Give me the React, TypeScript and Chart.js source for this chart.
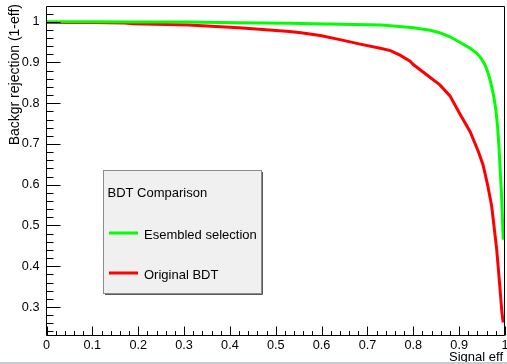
import { useEffect, useRef } from 'react';
import { Chart, registerables } from 'chart.js';

Chart.register(...registerables);

// Esembled selection (green)
const effGreen = [0, 0.1, 0.2, 0.3, 0.42, 0.53, 0.64, 0.73, 0.77, 0.8, 0.837, 0.86, 0.88, 0.905, 0.924, 0.938, 0.948, 0.956, 0.962, 0.968, 0.975, 0.98, 0.984, 0.987, 0.99, 0.993, 0.996];
const rejGreen = [1.0, 1.0, 0.9995, 0.999, 0.9975, 0.996, 0.994, 0.992, 0.988, 0.985, 0.979, 0.972, 0.963, 0.947, 0.935, 0.923, 0.91, 0.895, 0.878, 0.855, 0.82, 0.785, 0.74, 0.69, 0.625, 0.562, 0.465];

// Original BDT (red)
const effRed = [0, 0.1, 0.17, 0.19, 0.31, 0.42, 0.53, 0.555, 0.597, 0.64, 0.684, 0.728, 0.75, 0.771, 0.793, 0.8, 0.829, 0.858, 0.88, 0.902, 0.924, 0.942, 0.952, 0.962, 0.971, 0.982, 0.988, 0.993, 0.996];
const rejRed = [0.998, 0.998, 0.997, 0.995, 0.992, 0.985, 0.976, 0.973, 0.966, 0.956, 0.945, 0.935, 0.929, 0.918, 0.903, 0.895, 0.87, 0.845, 0.818, 0.773, 0.73, 0.681, 0.649, 0.6, 0.547, 0.44, 0.36, 0.29, 0.262];

const seriesLabels = ['Esembled selection', 'Original BDT'];
const seriesColors = ['#00ff00', '#ff0000'];
const legendTitle = 'BDT Comparison';
const xTitle = 'Signal eff';
const yTitle = 'Backgr rejection (1-eff)';

const xTickValues = [0, 0.1, 0.2, 0.3, 0.4, 0.5, 0.6, 0.7, 0.8, 0.9, 1];
const yTickValues = [0.3, 0.4, 0.5, 0.6, 0.7, 0.8, 0.9, 1];

const FONT = '"Liberation Sans", Arial, Helvetica, sans-serif';

const fmt = (v: number) => (v === 0 ? '0' : v === 1 ? '1' : String(v));

const rootStyle = {
  id: 'rootStyle',
  beforeDraw(chart: any) {
    const { ctx, width, height } = chart;
    ctx.save();
    ctx.fillStyle = '#ffffff';
    ctx.fillRect(0, 0, width, height);
    ctx.restore();
  },
  afterDatasetsDraw(chart: any) {
    const { ctx, chartArea: a, scales } = chart;
    const xs = scales.x;
    const ys = scales.y;
    const L = Math.floor(a.left) + 0.5;
    const R = Math.ceil(a.right) - 0.5;
    const T = Math.floor(a.top) + 0.5;
    const B = Math.floor(a.bottom) + 0.5;
    ctx.save();
    ctx.strokeStyle = '#000000';
    ctx.lineWidth = 1;
    ctx.beginPath();
    ctx.moveTo(L, T);
    ctx.lineTo(R, T);
    ctx.lineTo(R, B);
    ctx.lineTo(L, B);
    ctx.closePath();
    ctx.stroke();
    // y ticks (inward)
    ctx.beginPath();
    const kMin = Math.ceil(ys.min * 50);
    const kMax = Math.floor(ys.max * 50);
    for (let k = kMin; k <= kMax; k++) {
      const py = Math.round(ys.getPixelForValue(k / 50)) + 0.5;
      const len = k % 5 === 0 ? 14 : 7;
      ctx.moveTo(L, py);
      ctx.lineTo(L + len, py);
    }
    // x ticks (inward)
    for (let k = 0; k <= 50; k++) {
      const px = Math.round(xs.getPixelForValue(k / 50)) + 0.5;
      const len = k % 5 === 0 ? 9 : 4.5;
      ctx.moveTo(px, B);
      ctx.lineTo(px, B - len);
    }
    ctx.stroke();
    ctx.restore();
  },
  afterDraw(chart: any) {
    const { ctx, width, height } = chart;
    ctx.save();
    // titles
    ctx.fillStyle = '#000000';
    ctx.font = `13px ${FONT}`;
    ctx.textAlign = 'right';
    ctx.textBaseline = 'alphabetic';
    ctx.fillText(xTitle, 503, 361);
    ctx.save();
    ctx.translate(18.5, 4);
    ctx.rotate(-Math.PI / 2);
    ctx.font = `14px ${FONT}`;
    ctx.textAlign = 'right';
    ctx.fillText(yTitle, 0, 0);
    ctx.restore();

    // legend box
    const bx = 104, by = 171, bw = 157, bh = 122;
    ctx.fillStyle = '#f0f0f0';
    ctx.fillRect(bx, by, bw, bh);
    ctx.strokeStyle = '#8c8c8c';
    ctx.lineWidth = 1;
    ctx.strokeRect(bx - 0.5, by - 0.5, bw + 1, bh + 1);
    ctx.strokeStyle = '#5a5a5a';
    ctx.beginPath();
    ctx.moveTo(bx + bw + 1.5, by + 1);
    ctx.lineTo(bx + bw + 1.5, by + bh + 1.5);
    ctx.lineTo(bx + 1, by + bh + 1.5);
    ctx.stroke();

    ctx.fillStyle = '#000000';
    ctx.font = `13px ${FONT}`;
    ctx.textAlign = 'left';
    ctx.fillText(legendTitle, 107.5, 196.5);
    const rows = [233, 273];
    chart.data.datasets.forEach((ds: any, i: number) => {
      ctx.strokeStyle = ds.borderColor;
      ctx.lineWidth = 3;
      ctx.beginPath();
      ctx.moveTo(109, rows[i]);
      ctx.lineTo(138, rows[i]);
      ctx.stroke();
      ctx.fillStyle = '#000000';
      ctx.fillText(ds.label, 144, rows[i] + 5.5);
    });

    // bottom canvas edge
    ctx.fillStyle = '#c9cdd1';
    ctx.fillRect(0, height - 2, width, 2);
    ctx.restore();
  },
};

export default function App() {
  const ref = useRef<HTMLCanvasElement>(null);
  useEffect(() => {
    if (!ref.current) return;
    const chart = new Chart(ref.current, {
      type: 'line',
      data: {
        datasets: [
          {
            label: seriesLabels[0],
            data: effGreen.map((x, i) => ({ x, y: rejGreen[i] })),
            borderColor: seriesColors[0],
            backgroundColor: seriesColors[0],
            borderWidth: 3,
            pointRadius: 0,
            tension: 0,
            fill: false,
          },
          {
            label: seriesLabels[1],
            data: effRed.map((x, i) => ({ x, y: rejRed[i] })),
            borderColor: seriesColors[1],
            backgroundColor: seriesColors[1],
            borderWidth: 3,
            pointRadius: 0,
            tension: 0,
            fill: false,
          },
        ],
      },
      options: {
        animation: false,
        responsive: false,
        devicePixelRatio: 1,
        layout: { padding: { top: 6.5, right: 2, left: 0, bottom: 0 } },
        plugins: { legend: { display: false }, tooltip: { enabled: false } },
        scales: {
          x: {
            type: 'linear',
            position: 'bottom',
            min: 0,
            max: 1,
            afterFit: (s: any) => {
              s.height = 28.5;
              s.paddingLeft = 0;
              s.paddingRight = 0;
            },
            afterBuildTicks: (s: any) => {
              s.ticks = xTickValues.map((v) => ({ value: v }));
            },
            grid: { display: false, drawTicks: false },
            border: { display: false },
            ticks: {
              autoSkip: false,
              maxRotation: 0,
              padding: 2,
              color: '#000000',
              font: { family: FONT, size: 12.7 },
              callback: (v: any) => fmt(Number(v)),
            },
          },
          y: {
            type: 'linear',
            position: 'left',
            min: 0.2301,
            max: 1.0373,
            afterFit: (s: any) => {
              s.width = 46.5;
              s.paddingTop = 0;
              s.paddingBottom = 0;
            },
            afterBuildTicks: (s: any) => {
              s.ticks = yTickValues.map((v) => ({ value: v }));
            },
            grid: { display: false, drawTicks: false },
            border: { display: false },
            ticks: {
              autoSkip: false,
              padding: 7,
              color: '#000000',
              font: { family: FONT, size: 12.7 },
              callback: (v: any) => fmt(Number(v)),
            },
          },
        },
      },
      plugins: [rootStyle],
    });
    return () => chart.destroy();
  }, []);
  return (
    <div style={{ position: 'fixed', left: 0, top: 0, width: 507, height: 364, background: '#ffffff' }}>
      <canvas ref={ref} width={507} height={364} style={{ display: 'block' }} />
    </div>
  );
}
